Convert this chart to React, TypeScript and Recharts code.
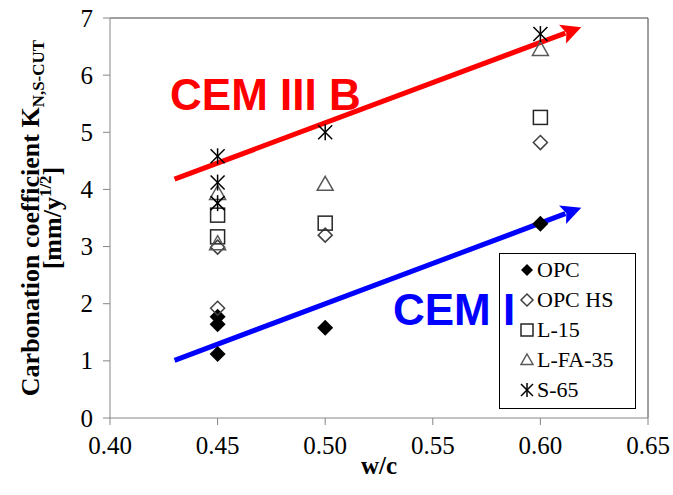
import React from 'react';
import { ScatterChart, Scatter, XAxis, YAxis, ReferenceLine, ReferenceDot, Legend } from 'recharts';

const xTicks = [0.4, 0.45, 0.5, 0.55, 0.6, 0.65];
const yTicks = [0, 1, 2, 3, 4, 5, 6, 7];

const seriesNames = ['OPC', 'OPC HS', 'L-15', 'L-FA-35', 'S-65'];

const opc = [
  { x: 0.45, y: 1.77 },
  { x: 0.45, y: 1.64 },
  { x: 0.45, y: 1.12 },
  { x: 0.5, y: 1.58 },
  { x: 0.6, y: 3.4 },
];
const opcHs = [
  { x: 0.45, y: 1.92 },
  { x: 0.45, y: 2.99 },
  { x: 0.5, y: 3.2 },
  { x: 0.6, y: 4.82 },
];
const l15 = [
  { x: 0.45, y: 3.55 },
  { x: 0.45, y: 3.17 },
  { x: 0.5, y: 3.41 },
  { x: 0.6, y: 5.26 },
];
const lfa35 = [
  { x: 0.45, y: 3.93 },
  { x: 0.45, y: 3.05 },
  { x: 0.5, y: 4.09 },
  { x: 0.6, y: 6.45 },
];
const s65 = [
  { x: 0.45, y: 4.58 },
  { x: 0.45, y: 4.12 },
  { x: 0.45, y: 3.76 },
  { x: 0.5, y: 5.0 },
  { x: 0.6, y: 6.72 },
];

// trend arrows (start, tip)
const redArrow = [{ x: 0.43, y: 4.18 }, { x: 0.619, y: 6.84 }];
const blueArrow = [{ x: 0.43, y: 1.01 }, { x: 0.619, y: 3.68 }];

const annotations = [
  { text: 'CEM III B', x: 0.4279, y: 5.39, color: '#FF0000' },
  { text: 'CEM I', x: 0.5315, y: 1.63, color: '#0000FF' },
];

const serif = '"Liberation Serif", "Times New Roman", serif';
const axisGray = '#868686';

const FilledDiamond = ({ cx, cy, r = 8 }: any) => (
  <polygon points={`${cx},${cy - r} ${cx + r},${cy} ${cx},${cy + r} ${cx - r},${cy}`} fill="#000" />
);
const OpenDiamond = ({ cx, cy, r = 7 }: any) => (
  <polygon points={`${cx},${cy - r} ${cx + r},${cy} ${cx},${cy + r} ${cx - r},${cy}`} fill="none" stroke="#404040" strokeWidth={1.5} />
);
const OpenSquare = ({ cx, cy, r = 7 }: any) => (
  <rect x={cx - r} y={cy - r} width={2 * r} height={2 * r} fill="none" stroke="#262626" strokeWidth={1.5} />
);
const OpenTriangle = ({ cx, cy, r = 8 }: any) => (
  <polygon points={`${cx},${cy - r} ${cx + r},${cy + r * 0.75} ${cx - r},${cy + r * 0.75}`} fill="none" stroke="#595959" strokeWidth={1.5} />
);
const Asterisk = ({ cx, cy, r = 7 }: any) => (
  <g stroke="#000" strokeWidth={1.5}>
    <line x1={cx - r} y1={cy - r} x2={cx + r} y2={cy + r} />
    <line x1={cx - r} y1={cy + r} x2={cx + r} y2={cy - r} />
    <line x1={cx} y1={cy - r - 1} x2={cx} y2={cy + r + 1} />
  </g>
);

const markers = [FilledDiamond, OpenDiamond, OpenSquare, OpenTriangle, Asterisk];
const seriesData = [opc, opcHs, l15, lfa35, s65];

const arrowShape = (color: string) => (p: any) => {
  const { x1, y1, x2, y2 } = p;
  const dx = x2 - x1;
  const dy = y2 - y1;
  const len = Math.hypot(dx, dy);
  const ux = dx / len;
  const uy = dy / len;
  const hl = 20;
  const hw = 10;
  const bx = x2 - ux * hl;
  const by = y2 - uy * hl;
  const px = -uy;
  const py = ux;
  return (
    <g>
      <line x1={x1} y1={y1} x2={bx + ux * 3} y2={by + uy * 3} stroke={color} strokeWidth={5} />
      <polygon
        points={`${x2},${y2} ${bx + px * hw},${by + py * hw} ${bx + ux * 4},${by + uy * 4} ${bx - px * hw},${by - py * hw}`}
        fill={color}
      />
    </g>
  );
};

const tickStyle = { fontFamily: serif, fontSize: 25, fill: '#000' };

const renderXTick = ({ x, y, payload }: any) => (
  <text x={x} y={y} dy={16} textAnchor="middle" style={tickStyle}>
    {Number(payload.value).toFixed(2)}
  </text>
);

const renderYTick = ({ x, y, payload }: any) => (
  <text x={x} y={y} dy={8.5} textAnchor="end" style={tickStyle}>
    {payload.value}
  </text>
);

const YTitle = ({ viewBox }: any) => {
  const cy = viewBox.y + viewBox.height / 2;
  return (
    <g style={{ fontFamily: serif, fontWeight: 'bold', fontSize: 26 }} fill="#000">
      <text transform={`translate(39,${cy}) rotate(-90)`} textAnchor="middle">
        Carbonation coefficient K<tspan fontSize={17} dy={5}>N,S-CUT</tspan>
      </text>
      <text transform={`translate(61,${cy}) rotate(-90)`} textAnchor="middle">
        [mm/y<tspan fontSize={17} dy={-10}>1/2</tspan><tspan dy={10}>]</tspan>
      </text>
    </g>
  );
};

const XTitle = ({ viewBox }: any) => (
  <text
    x={viewBox.x + viewBox.width / 2}
    y={viewBox.y + 56}
    textAnchor="middle"
    style={{ fontFamily: serif, fontWeight: 'bold', fontSize: 25 }}
    fill="#000"
  >
    w/c
  </text>
);

const LegendBox = () => (
  <div
    style={{
      width: 135,
      height: 153,
      border: '1.5px solid #000',
      background: '#fff',
      boxSizing: 'content-box',
      paddingTop: 1,
      fontFamily: serif,
      fontSize: 22,
      color: '#000',
    }}
  >
    {seriesNames.map((name, i) => {
      const M = markers[i];
      return (
        <div key={name} style={{ display: 'flex', alignItems: 'center', height: 30, paddingLeft: 18 }}>
          <svg width={18} height={18} style={{ marginRight: 1 }}>
            <M cx={9} cy={9} r={6} />
          </svg>
          <span style={{ lineHeight: '30px' }}>{name}</span>
        </div>
      );
    })}
  </div>
);

export default function App() {
  return (
    <div style={{ position: 'absolute', left: 0, top: 0, zIndex: 0, background: '#fff', fontFamily: serif }}>
      <ScatterChart width={673} height={495} margin={{ top: 18, right: 25, bottom: 27, left: 40 }}>
        <XAxis
          type="number"
          dataKey="x"
          domain={[0.4, 0.65]}
          ticks={xTicks}
          tick={renderXTick}
          tickSize={7}
          tickMargin={13}
          stroke={axisGray}
          height={50}
          allowDataOverflow
          label={<XTitle />}
        />
        <YAxis
          type="number"
          dataKey="y"
          domain={[0, 7]}
          ticks={yTicks}
          tick={renderYTick}
          tickSize={7}
          tickMargin={10}
          stroke={axisGray}
          width={70}
          allowDataOverflow
          label={<YTitle />}
        />
        <ReferenceLine y={7} stroke="#404040" strokeWidth={1} />
        <ReferenceLine x={0.65} stroke="#404040" strokeWidth={1} />
        <ReferenceLine segment={redArrow} ifOverflow="visible" shape={arrowShape('#FF0000')} />
        <ReferenceLine segment={blueArrow} ifOverflow="visible" shape={arrowShape('#0000FF')} />
        {seriesNames.map((name, i) => {
          const M = markers[i];
          return (
            <Scatter
              key={name}
              name={name}
              data={seriesData[i]}
              isAnimationActive={false}
              shape={(p: any) => <M cx={p.cx} cy={p.cy} />}
            />
          );
        })}
        {annotations.map((a) => (
          <ReferenceDot
            key={a.text}
            x={a.x}
            y={a.y}
            r={0}
            ifOverflow="visible"
            shape={(p: any) => (
              <text
                x={p.cx}
                y={p.cy}
                fill={a.color}
                style={{ fontFamily: '"Liberation Sans", Arial, sans-serif', fontWeight: 'bold', fontSize: 44 }}
              >
                {a.text}
              </text>
            )}
          />
        ))}
        <Legend
          layout="vertical"
          align="center"
          verticalAlign="middle"
          content={<LegendBox />}
          wrapperStyle={{ left: 499, top: 253, width: 'auto', zIndex: -1 }}
        />
      </ScatterChart>
    </div>
  );
}
